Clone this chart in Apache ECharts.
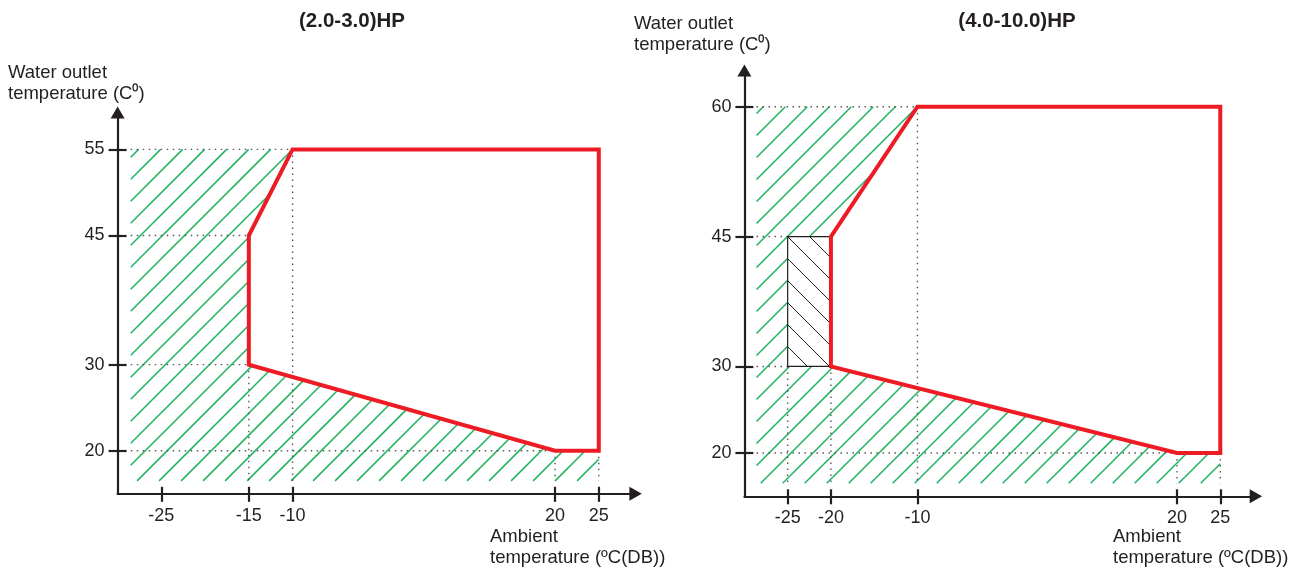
<!DOCTYPE html>
<html>
<head>
<meta charset="utf-8">
<script src="https://cdn.jsdelivr.net/npm/echarts@6/dist/echarts.min.js"></script>
<style>
html,body{margin:0;padding:0;background:#fff;}
#c{width:1301px;height:571px;}
</style>
</head>
<body>
<div id="c"></div>
<script>
// ---------- data ----------
const titleL = '(2.0-3.0)HP';
const titleR = '(4.0-10.0)HP';
const yNameText = 'Water outlet\ntemperature (C\u2070)';
const xNameText = 'Ambient\ntemperature (\u00baC(DB))';

const xTicksL = [-25, -15, -10, 20, 25];
const yTicksL = [20, 30, 45, 55];
const envelopeL = [[-10, 55], [25, 55], [25, 20], [20, 20], [-15, 30], [-15, 45]];
const hatchL = [[-28.5, 55], [-10, 55], [-15, 45], [-15, 30], [20, 20], [25, 20], [25, 16.5], [-28.5, 16.5]];
const guidesL = [
  [-28.5, 55, -10, 55], [-28.5, 45, -15, 45], [-28.5, 30, -15, 30], [-28.5, 20, 20, 20],
  [-10, 55, -10, 16.5], [-15, 30, -15, 16.5], [20, 20, 20, 16.5], [25, 20, 25, 16.5]
];

const xTicksR = [-25, -20, -10, 20, 25];
const yTicksR = [20, 30, 45, 60];
const envelopeR = [[-10, 60], [25, 60], [25, 20], [20, 20], [-20, 30], [-20, 45]];
const hatchR = [[-28.6, 60], [-10, 60], [-20, 45], [-20, 30], [20, 20], [25, 20], [25, 16.5], [-28.6, 16.5]];
const boxR = [[-25, 45], [-20, 45], [-20, 30], [-25, 30]];
const guidesR = [
  [-28.6, 60, -10, 60], [-28.6, 45, -25, 45], [-28.6, 30, -25, 30], [-28.6, 20, 20, 20],
  [-10, 60, -10, 16.5], [-25, 30, -25, 16.5], [-20, 30, -20, 16.5], [20, 20, 20, 16.5], [25, 20, 25, 16.5]
];

// ---------- styles ----------
const FONT = '"Liberation Sans", Arial, sans-serif';
const INK = '#231f20';
const RED = '#ed1c24';
const GREEN = '#1fb35f';
const GUIDE = '#58595b';

// hatch lines clipped to a polygon (pixel space). dir = +1 for '/', -1 for '\'
function hatchLines(pts, spacing, dir, anchorIdx, style) {
  const f = p => p[0] + dir * p[1];
  const vals = pts.map(f);
  const lo = Math.min.apply(null, vals), hi = Math.max.apply(null, vals);
  const c0 = Math.round(vals[anchorIdx]);
  const kStart = Math.ceil((lo - c0) / spacing), kEnd = Math.floor((hi - c0) / spacing);
  const children = [];
  for (let k = kStart; k <= kEnd; k++) {
    const c = c0 + k * spacing;
    const hits = [];
    for (let i = 0; i < pts.length; i++) {
      const a = pts[i], b = pts[(i + 1) % pts.length];
      const fa = f(a) - c, fb = f(b) - c;
      if ((fa > 0) !== (fb > 0)) {
        const t = fa / (fa - fb);
        hits.push([a[0] + t * (b[0] - a[0]), a[1] + t * (b[1] - a[1])]);
      }
    }
    hits.sort((p, q) => p[0] - q[0]);
    for (let j = 0; j + 1 < hits.length; j += 2) {
      children.push({ type: 'line', shape: { x1: hits[j][0], y1: hits[j][1], x2: hits[j + 1][0], y2: hits[j + 1][1] }, style: style });
    }
  }
  return children;
}

function hatchSeries(points, xi, opts, z) {
  return {
    type: 'custom', xAxisIndex: xi, yAxisIndex: xi, z: z, silent: true,
    data: points, encode: { x: 0, y: 1 },
    renderItem: function (params, api) {
      if (params.dataIndex !== 0) return null;
      const pts = points.map(p => api.coord(p));
      const children = [];
      if (opts.bg) children.push({ type: 'polygon', shape: { points: pts }, style: { fill: opts.bg, stroke: null } });
      hatchLines(pts, opts.spacing, opts.dir, opts.anchor, { stroke: opts.color, lineWidth: opts.width })
        .forEach(c => children.push(c));
      if (opts.border) children.push({ type: 'polygon', shape: { points: pts }, style: { fill: null, stroke: opts.border, lineWidth: 1.2 } });
      return { type: 'group', children: children };
    }
  };
}
function outlineSeries(points, xi, z) {
  return {
    type: 'custom', xAxisIndex: xi, yAxisIndex: xi, z: z, silent: true,
    data: points, encode: { x: 0, y: 1 },
    renderItem: function (params, api) {
      if (params.dataIndex !== 0) return null;
      const pts = points.map(p => api.coord(p));
      return { type: 'polygon', shape: { points: pts }, style: { fill: null, stroke: RED, lineWidth: 4, lineJoin: 'miter' } };
    }
  };
}
function guideSeries(segs, xi, z) {
  return {
    type: 'custom', xAxisIndex: xi, yAxisIndex: xi, z: z, silent: true,
    data: segs, encode: { x: [0, 2], y: [1, 3] },
    renderItem: function (params, api) {
      const a = api.coord([api.value(0), api.value(1)]);
      const b = api.coord([api.value(2), api.value(3)]);
      return { type: 'line', shape: { x1: a[0], y1: a[1], x2: b[0], y2: b[1] },
        style: { stroke: GUIDE, lineWidth: 1.4, lineDash: [1.5, 4.5] } };
    }
  };
}

function xAxes(grid, min, max, ticks) {
  const common = { gridIndex: grid, type: 'value', min: min, max: max, position: 'bottom', splitLine: { show: false } };
  return [
    Object.assign({}, common, {
      axisLine: { show: true, onZero: false, symbol: ['none', 'triangle'], symbolSize: [14, 12.4], symbolOffset: [0, 6.2],
        lineStyle: { color: INK, width: 2.2 } },
      axisTick: { show: true, inside: false, length: 8, customValues: ticks, lineStyle: { color: INK, width: 2.2 } },
      axisLabel: { show: true, margin: 13, customValues: ticks, color: INK, fontSize: 18, fontFamily: FONT }
    }),
    Object.assign({}, common, {
      axisLine: { show: false, onZero: false },
      axisTick: { show: true, inside: true, length: 7, customValues: ticks, lineStyle: { color: INK, width: 2.2 } },
      axisLabel: { show: false }
    })
  ];
}
function yAxes(grid, min, max, ticks) {
  const common = { gridIndex: grid, type: 'value', min: min, max: max, position: 'left', splitLine: { show: false } };
  return [
    Object.assign({}, common, {
      axisLine: { show: true, onZero: false, symbol: ['none', 'triangle'], symbolSize: [14, 12], symbolOffset: [0, 6],
        lineStyle: { color: INK, width: 2.2 } },
      axisTick: { show: true, inside: false, length: 9, customValues: ticks, lineStyle: { color: INK, width: 2.2 } },
      axisLabel: { show: true, margin: 13, customValues: ticks, color: INK, fontSize: 18, fontFamily: FONT }
    }),
    Object.assign({}, common, {
      axisLine: { show: false, onZero: false },
      axisTick: { show: true, inside: true, length: 9, customValues: ticks, lineStyle: { color: INK, width: 2.2 } },
      axisLabel: { show: false }
    })
  ];
}

function txt(text, x, y, font, align, valign, lh) {
  return { type: 'text', x: x, y: y, silent: true, z: 10,
    style: { text: text, font: font, fill: INK, align: align, verticalAlign: valign, lineHeight: lh } };
}

const greenOpts = { spacing: 22, dir: 1, anchor: 1, color: GREEN, width: 1.5 };
const boxOpts = { spacing: 22, dir: -1, anchor: 0, color: INK, width: 1, bg: '#fff', border: INK };

const chart = echarts.init(document.getElementById('c'), null, { renderer: 'canvas' });
chart.setOption({
  animation: false,
  backgroundColor: '#fff',
  grid: [
    { left: 117.6, top: 118.4, width: 511.8, height: 375.4, containLabel: false },
    { left: 744.4, top: 76.4, width: 505.3, height: 419.9, containLabel: false }
  ],
  xAxis: [].concat(xAxes(0, -30, 28.5, xTicksL), xAxes(1, -30, 28.4, xTicksR)),
  yAxis: [].concat(yAxes(0, 15, 58.6, yTicksL), yAxes(1, 15, 63.5, yTicksR)),
  graphic: [
    txt(titleL, 352, 21, 'bold 20.5px ' + FONT, 'center', 'middle', 24),
    txt(titleR, 1017, 21, 'bold 20.5px ' + FONT, 'center', 'middle', 24),
    txt(yNameText, 8, 62, '18.5px ' + FONT, 'left', 'top', 21.5),
    txt(yNameText, 634, 13, '18.5px ' + FONT, 'left', 'top', 21.5),
    txt(xNameText, 490, 526, '18.5px ' + FONT, 'left', 'top', 21.5),
    txt(xNameText, 1113, 526, '18.5px ' + FONT, 'left', 'top', 21.5)
  ],
  series: [
    hatchSeries(hatchL, 0, greenOpts, 1),
    guideSeries(guidesL, 0, 2),
    outlineSeries(envelopeL, 0, 5),
    hatchSeries(hatchR, 2, greenOpts, 1),
    guideSeries(guidesR, 2, 2),
    hatchSeries(boxR, 2, boxOpts, 3),
    outlineSeries(envelopeR, 2, 5)
  ]
});
</script>
</body>
</html>
